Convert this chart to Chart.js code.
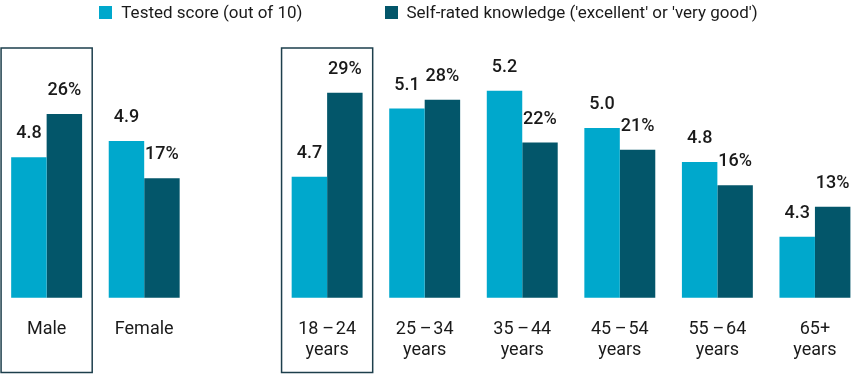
<!DOCTYPE html>
<html>
<head>
<meta charset="utf-8">
<script src="https://cdn.jsdelivr.net/npm/chart.js@4"></script>
<style>
  html, body { margin: 0; padding: 0; background: #fff; }
  #wrap { position: relative; width: 857px; height: 375px; }
  #legend { position: absolute; top: 2px; left: 0; width: 857px; display: flex; justify-content: center;
            font: 17px Roboto, sans-serif; color: #1a1a1a; line-height: 20px; }
  .item { display: flex; align-items: center; }
  .item + .item { margin-left: 82px; }
  .sw { width: 13px; height: 13px; margin-right: 9px; }
  canvas { position: absolute; top: 0; left: 0; }
</style>
</head>
<body>
<div id="wrap">
  <canvas id="c" width="857" height="375"></canvas>
  <div id="legend"></div>
</div>
<script>
// ---- data ----
const categories = [
  ['Male'], ['Female'],
  ['18\u2009\u2013\u200a24', 'years'], ['25\u2009\u2013\u200a34', 'years'], ['35\u2009\u2013\u200a44', 'years'],
  ['45\u2009\u2013\u200a54', 'years'], ['55\u2009\u2013\u200a64', 'years'], ['65+', 'years']
];
const seriesNames = ['Tested score (out of 10)', "Self-rated knowledge ('excellent' or 'very good')"];
const testedScore = [4.79, 4.89, 4.67, 5.09, 5.20, 4.97, 4.76, 4.30];
const selfRatedPct = [26, 17, 29, 28, 22, 21, 16, 13];
const highlighted = ['Male', '18\u2009\u2013\u200a24'];

// ---- styling / layout ----
const colors = ['#00a8cc', '#03566a'];
const groupGap = 0.875; // extra space between gender and age groups
const xPos = categories.map((c, i) => i < 2 ? i : i + groupGap);

document.getElementById('legend').innerHTML = seriesNames.map((n, i) =>
  `<div class="item"><div class="sw" style="background:${colors[i]}"></div><span>${n}</span></div>`).join('');

const areaTop = 48, areaBottom = 297.7;
const H = areaBottom - areaTop;
const yMin = 3.924, yPerUnit = 162.2;
const y2Min = 0.228, y2PerUnit = 7.125;

const valueLabels = {
  id: 'valueLabels',
  afterDatasetsDraw(chart) {
    const ctx = chart.ctx;
    ctx.save();
    ctx.font = '500 18px Roboto, sans-serif';
    ctx.fillStyle = '#1a1a1a';
    ctx.textAlign = 'center';
    ctx.textBaseline = 'middle';
    chart.data.datasets.forEach((ds, di) => {
      chart.getDatasetMeta(di).data.forEach((bar, i) => {
        const v = ds.data[i].y;
        const txt = di === 0 ? v.toFixed(1) : v + '%';
        ctx.fillText(txt, bar.x, bar.y - 23.5);
      });
    });
    ctx.restore();
  }
};

const boxes = {
  id: 'boxes',
  afterDraw(chart) {
    const ctx = chart.ctx, xs = chart.scales.x;
    const slot = xs.getPixelForValue(1) - xs.getPixelForValue(0);
    ctx.save();
    ctx.strokeStyle = '#1d3f4c';
    ctx.lineWidth = 1.5;
    categories.forEach((c, i) => {
      if (!highlighted.includes(c[0])) return;
      const cx = xs.getPixelForValue(xPos[i]);
      const hw = slot * 0.467;
      ctx.strokeRect(cx - hw, chart.chartArea.top, hw * 2, chart.height - 2.5 - chart.chartArea.top);
    });
    ctx.restore();
  }
};

new Chart(document.getElementById('c'), {
  type: 'bar',
  data: {
    datasets: [
      { label: seriesNames[0], data: testedScore.map((v, i) => ({ x: xPos[i], y: v })),
        backgroundColor: colors[0], yAxisID: 'y' },
      { label: seriesNames[1], data: selfRatedPct.map((v, i) => ({ x: xPos[i], y: v })),
        backgroundColor: colors[1], yAxisID: 'y2' }
    ]
  },
  options: {
    responsive: false,
    animation: false,
    devicePixelRatio: 1,
    barPercentage: 1,
    categoryPercentage: 0.727,
    layout: { padding: { top: areaTop, bottom: 13.6, left: 0, right: 0 } },
    plugins: { legend: { display: false }, tooltip: { enabled: false } },
    scales: {
      x: {
        type: 'linear',
        offset: false,
        min: -0.478, max: 8.246,
        grid: { display: false, drawTicks: false },
        border: { display: false },
        afterBuildTicks(scale) { scale.ticks = xPos.map(v => ({ value: v })); },
        afterFit(scale) { scale.height = 63.7; },
        ticks: {
          autoSkip: false, maxRotation: 0, padding: 20.5,
          color: '#1a1a1a', font: { family: 'Roboto, sans-serif', size: 18 },
          callback: (v, i) => categories[i]
        }
      },
      y: { display: false, min: yMin, max: yMin + H / yPerUnit },
      y2: { display: false, min: y2Min, max: y2Min + H / y2PerUnit }
    }
  },
  plugins: [valueLabels, boxes]
});
</script>
</body>
</html>
